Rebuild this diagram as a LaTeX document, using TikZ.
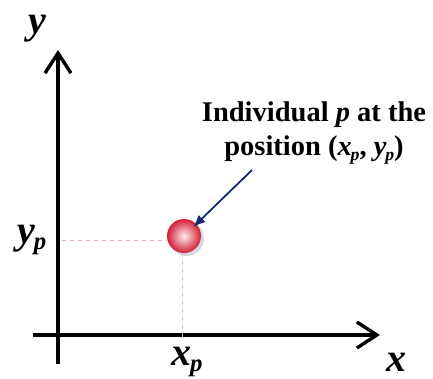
\documentclass[tikz,border=0pt]{standalone}
\usepackage{fontspec}
\setmainfont{Liberation Serif}
\usetikzlibrary{arrows.meta}
\newcommand{\subp}[1]{{\itshape #1}\kern-0.04em\raisebox{-0.32ex}{\fontsize{0.62em}{0.62em}\selectfont\itshape p}}
\tikzset{
  axisline/.style={line width=3.6pt, -{Straight Barb[length=20pt,width=26pt,line width=3.4pt]}},
  guide/.style={draw={rgb,255:red,235;green,170;blue,200}, line width=0.9pt, dash pattern=on 4pt off 4pt},
  biglabel/.style={font=\fontsize{40}{40}\selectfont\bfseries\itshape, inner sep=0pt},
  note/.style={font=\fontsize{28.5}{34}\selectfont\bfseries, align=center, inner sep=0pt},
  pointer/.style={draw={rgb,255:red,20;green,40;blue,120}, line width=1.8pt, -{Latex[length=12pt,width=10pt]}},
}
\begin{document}
\begin{tikzpicture}[x=1pt,y=-1pt]
\useasboundingbox[fill=white] (0,0) rectangle (433,379);
% axes
\coordinate (ybot) at (58,364);
\coordinate (ytop) at (58,50);
\coordinate (xl) at (33,335);
\coordinate (xr) at (380,335);
\draw[axisline] (ybot) -- (ytop);
\draw[axisline] (xl) -- (xr);
% individual
\node[circle, minimum size=35pt, inner sep=0pt, fill={rgb,255:red,185;green,190;blue,215}, opacity=0.6] (shadow) at (186.5,238.5) {};
\node[circle, minimum size=34pt, inner sep=0pt, inner color={rgb,255:red,255;green,235;blue,240}, outer color={rgb,255:red,210;green,30;blue,50}] (p) at (184,236) {};
% guides
\coordinate (gy) at (62,240);
\coordinate (gx) at (182,337);
\draw[guide] (gy) -- (p.west |- gy);
\draw[guide] (gx) -- (gx |- p.south);
% labels
\node[biglabel] (ylab) at (37,29) {y};
\node[biglabel] (yp) at (32,240) {\subp{y}};
\node[biglabel] (xp) at (187,362) {\subp{x}};
\node[biglabel] (xlab) at (396,362) {x};
\node[note] (lbl) at (314,133) {Individual \textit{p} at the\\position (\subp{x}, \subp{y})};
% pointer
\coordinate (ptail) at (252,170);
\draw[pointer, shorten >=13pt] (ptail) -- (p.center);
\end{tikzpicture}
\end{document}
